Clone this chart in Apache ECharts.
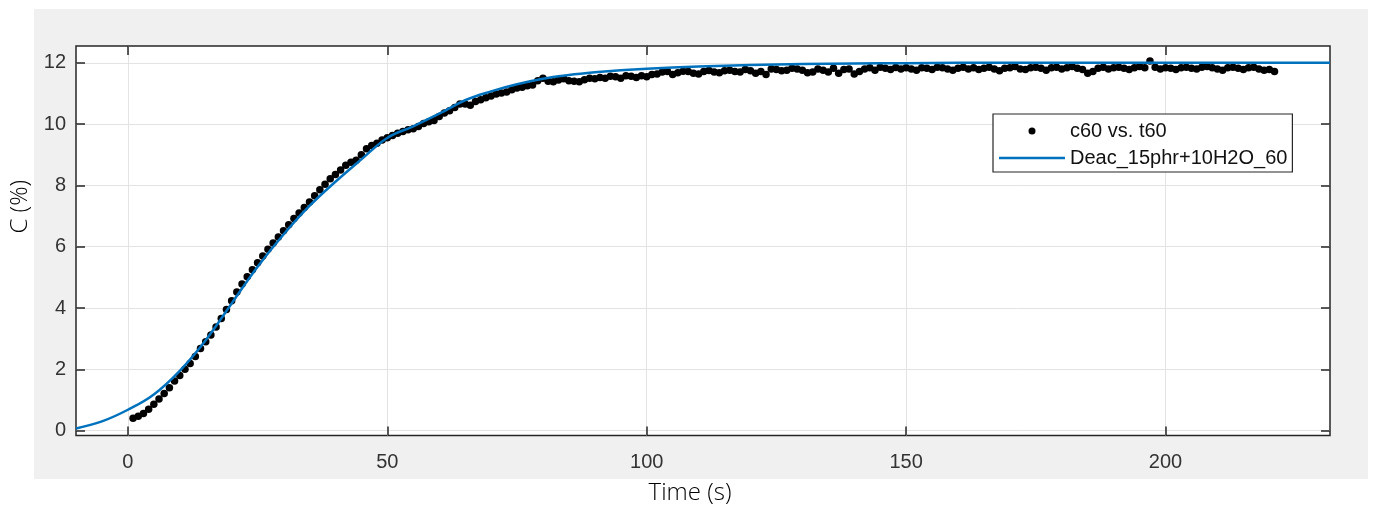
<!DOCTYPE html>
<html>
<head>
<meta charset="utf-8">
<script src="https://cdn.jsdelivr.net/npm/echarts@6/dist/echarts.min.js"></script>
<style>
  html, body { margin: 0; padding: 0; background: #ffffff; }
  #chart { width: 1377px; height: 512px; }
</style>
</head>
<body>
<div id="chart"></div>
<script>
// Measured samples: time (s)
const t60 = [
  1,2,3,4,5,6,7,8,9,10,11,12,13,14,15,16,17,18,19,20,
  21,22,23,24,25,26,27,28,29,30,31,32,33,34,35,36,37,38,39,40,
  41,42,43,44,45,46,47,48,49,50,51,52,53,54,55,56,57,58,59,60,
  61,62,63,64,65,66,67,68,69,70,71,72,73,74,75,76,77,78,79,80,
  81,82,83,84,85,86,87,88,89,90,91,92,93,94,95,96,97,98,99,100,
  101,102,103,104,105,106,107,108,109,110,111,112,113,114,115,116,117,118,119,120,
  121,122,123,124,125,126,127,128,129,130,131,132,133,134,135,136,137,138,139,140,
  141,142,143,144,145,146,147,148,149,150,151,152,153,154,155,156,157,158,159,160,
  161,162,163,164,165,166,167,168,169,170,171,172,173,174,175,176,177,178,179,180,
  181,182,183,184,185,186,187,188,189,190,191,192,193,194,195,196,197,198,199,200,
  201,202,203,204,205,206,207,208,209,210,211,212,213,214,215,216,217,218,219,220,
  221
];

// Measured samples: conversion C (%)
const c60 = [
  0.40,0.47,0.56,0.70,0.86,1.03,1.21,1.40,1.62,1.80,2.00,2.19,2.42,2.68,2.90,3.12,3.38,3.66,3.95,4.24,
  4.52,4.78,5.02,5.25,5.48,5.70,5.92,6.12,6.32,6.52,6.72,6.92,7.10,7.28,7.46,7.66,7.86,8.04,8.22,8.36,
  8.50,8.66,8.76,8.82,9.00,9.20,9.30,9.38,9.48,9.56,9.63,9.70,9.76,9.82,9.85,9.92,10.02,10.08,10.12,10.25,
  10.36,10.44,10.54,10.66,10.66,10.62,10.74,10.80,10.86,10.92,10.98,11.02,11.05,11.12,11.18,11.20,11.25,11.28,11.42,11.50,
  11.40,11.38,11.44,11.48,11.42,11.40,11.38,11.45,11.50,11.48,11.52,11.50,11.56,11.55,11.50,11.58,11.56,11.52,11.58,11.55,
  11.62,11.64,11.70,11.72,11.62,11.68,11.73,11.72,11.66,11.64,11.72,11.75,11.70,11.68,11.74,11.76,11.72,11.70,11.78,11.74,
  11.66,11.72,11.62,11.80,11.78,11.74,11.76,11.82,11.80,11.76,11.68,11.70,11.80,11.76,11.70,11.82,11.66,11.78,11.80,11.64,
  11.72,11.80,11.84,11.76,11.86,11.82,11.78,11.85,11.80,11.84,11.80,11.76,11.84,11.82,11.78,11.86,11.84,11.80,11.76,11.82,
  11.86,11.80,11.84,11.78,11.82,11.86,11.80,11.74,11.82,11.84,11.88,11.80,11.78,11.84,11.86,11.82,11.76,11.84,11.86,11.80,
  11.84,11.88,11.82,11.78,11.66,11.72,11.82,11.86,11.80,11.84,11.86,11.82,11.78,11.84,11.88,11.84,12.06,11.86,11.80,11.84,
  11.82,11.78,11.84,11.86,11.82,11.80,11.86,11.88,11.84,11.80,11.76,11.84,11.86,11.82,11.78,11.84,11.86,11.80,11.76,11.78,
  11.72
];

// Fitted curve: time (s) and C (%)
const fitT = [-10,-5,0,5,10,15,20,25,30,35,40,45,50,55,60,65,70,75,80,85,90,95,100,110,120,130,140,150,160,180,200,231.7];
const fitC = [0.07,0.30,0.68,1.18,1.95,2.95,4.15,5.35,6.40,7.33,8.12,8.85,9.55,9.93,10.34,10.78,11.07,11.30,11.48,11.60,11.69,11.76,11.81,11.88,11.93,11.96,11.98,11.99,12.00,12.00,12.00,12.00];

// Axis ticks
const xTicks = [0, 50, 100, 150, 200];
const yTicks = [0, 2, 4, 6, 8, 10, 12];

const dataName = 'c60 vs. t60';
const fitName = 'Deac_15phr+10H2O_60';

const scatterData = t60.map((t, i) => [t, c60[i]]);
const fitData = fitT.map((t, i) => [t, fitC[i]]);

const axisColor = '#262626';
const fitColor = '#0072BD';
const tickFont = { fontFamily: 'Liberation Sans, Arial, sans-serif', fontSize: 20, color: '#333333' };
const titleFont = 'Open Sans, Noto Sans, sans-serif';

const chart = echarts.init(document.getElementById('chart'), null, { renderer: 'canvas' });

function tickStyle(values) {
  return { show: true, inside: true, length: 9, customValues: values, lineStyle: { color: axisColor, width: 1.5 } };
}

function boxAxis(extra) {
  return Object.assign({
    type: 'value',
    axisLine: { show: false, onZero: false },
    splitLine: { show: false },
    axisLabel: { show: false }
  }, extra);
}

chart.setOption({
  animation: false,
  backgroundColor: '#ffffff',
  graphic: [
    {
      type: 'rect', z: -100, silent: true,
      shape: { x: 34, y: 9, width: 1334, height: 470 },
      style: { fill: '#f0f0f0' }
    }
  ],
  grid: {
    left: 76, right: 47, top: 46, bottom: 76.5,
    show: true, backgroundColor: '#ffffff',
    borderColor: axisColor, borderWidth: 1.5
  },
  legend: {
    orient: 'vertical',
    left: 993, top: 114,
    padding: [7, 5, 4, 6],
    itemGap: 7,
    itemWidth: 66, itemHeight: 7,
    backgroundColor: '#ffffff',
    borderColor: axisColor, borderWidth: 1.2, borderRadius: 0,
    textStyle: { fontFamily: 'Liberation Sans, Arial, sans-serif', fontSize: 20, lineHeight: 20, color: '#111111' },
    data: [
      { name: dataName, icon: 'circle', itemStyle: { color: '#000000', opacity: 1 } },
      { name: fitName, icon: 'path://M0,0 L66,0 L66,2.5 L0,2.5 Z', itemStyle: { color: fitColor } }
    ]
  },
  xAxis: [
    boxAxis({
      min: -10, max: 231.7, position: 'bottom',
      name: 'Time (s)', nameLocation: 'middle', nameGap: 46,
      nameTextStyle: { fontFamily: titleFont, fontSize: 24, fontWeight: 300, color: '#000000', padding: [0, 26, 0, 0] },
      splitLine: { show: true, lineStyle: { color: '#e3e3e3', width: 1 } },
      axisLabel: Object.assign({ show: true, margin: 17, customValues: xTicks }, tickFont),
      axisTick: tickStyle(xTicks)
    }),
    boxAxis({
      min: -10, max: 231.7, position: 'top',
      axisTick: tickStyle(xTicks)
    })
  ],
  yAxis: [
    boxAxis({
      min: -0.16, max: 12.55, position: 'left',
      name: 'C (%)', nameLocation: 'middle', nameGap: 44,
      nameTextStyle: { fontFamily: titleFont, fontSize: 24, fontWeight: 300, color: '#000000', padding: [0, 0, 0, 68] },
      splitLine: { show: true, lineStyle: { color: '#e3e3e3', width: 1 } },
      axisLabel: Object.assign({ show: true, margin: 10, customValues: yTicks }, tickFont),
      axisTick: tickStyle(yTicks)
    }),
    boxAxis({
      min: -0.16, max: 12.55, position: 'right',
      axisTick: tickStyle(yTicks)
    })
  ],
  series: [
    {
      name: dataName,
      type: 'scatter',
      xAxisIndex: 0, yAxisIndex: 0,
      symbol: 'circle',
      symbolSize: 7.5,
      itemStyle: { color: '#000000', opacity: 1 },
      data: scatterData,
      z: 2
    },
    {
      name: fitName,
      type: 'line',
      xAxisIndex: 0, yAxisIndex: 0,
      symbol: 'none',
      smooth: 0.4,
      lineStyle: { color: fitColor, width: 2.5 },
      itemStyle: { color: fitColor },
      data: fitData,
      z: 3
    }
  ]
});
</script>
</body>
</html>
